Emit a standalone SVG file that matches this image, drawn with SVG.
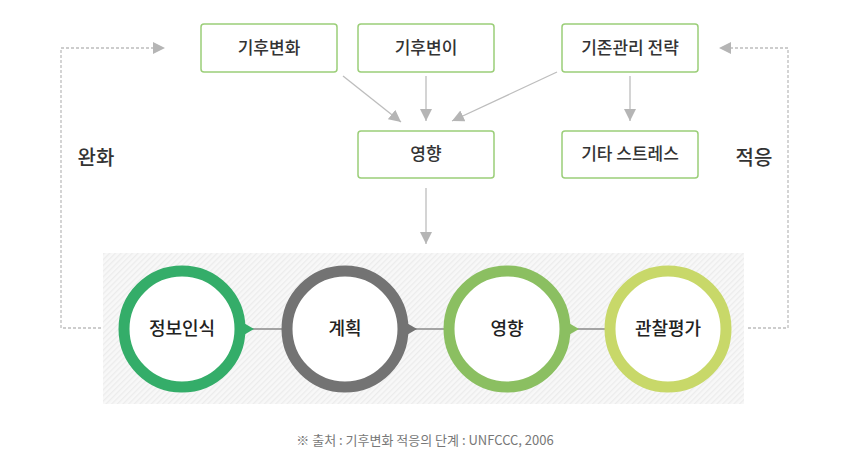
<svg xmlns="http://www.w3.org/2000/svg" width="850" height="473" viewBox="0 0 850 473">
<defs>
<pattern id="hatch" width="4" height="4" patternUnits="userSpaceOnUse" patternTransform="rotate(-45)">
<rect width="4" height="4" fill="#f8f8f8"/>
<rect width="4" height="1.3" fill="#ececec"/>
</pattern>
<marker id="ahb" viewBox="0 0 12 12" refX="12" refY="6" markerWidth="12" markerHeight="12" markerUnits="userSpaceOnUse" orient="auto">
<path d="M0,0 L12,6 L0,12 Z" fill="#b5b5b5"/>
</marker>
</defs>
<style>
.box{fill:#fff;stroke:#9bce78;stroke-width:1.5}
.t{font-family:"Noto Sans CJK KR","Noto Sans",sans-serif;font-size:17px;fill:#333;text-anchor:middle;font-weight:500}
.ct{font-family:"Noto Sans CJK KR","Noto Sans",sans-serif;font-size:18px;fill:#222;text-anchor:middle;font-weight:500}
.lbl{font-family:"Noto Sans CJK KR","Noto Sans",sans-serif;font-size:20px;fill:#333;text-anchor:middle;font-weight:500}
.arr{stroke:#bdbdbd;stroke-width:1.3;fill:none}
.dash{stroke:#bdbdbd;stroke-width:1.3;fill:none;stroke-dasharray:3 2}
.ring{fill:#fff;stroke-width:11}
.link{stroke:#8a8a8a;stroke-width:1.5}
</style>
<rect x="103" y="253" width="641" height="151" fill="url(#hatch)"/>
<g id="connectors">
<line class="arr" x1="343" y1="76" x2="401" y2="122" marker-end="url(#ahb)"/>
<line class="arr" x1="426" y1="76" x2="426" y2="121" marker-end="url(#ahb)"/>
<line class="arr" x1="557" y1="72" x2="452" y2="121" marker-end="url(#ahb)"/>
<line class="arr" x1="630" y1="76" x2="630" y2="121" marker-end="url(#ahb)"/>
<line class="arr" x1="426" y1="188" x2="426" y2="244" marker-end="url(#ahb)"/>
<polyline class="dash" points="101,328 61,328 61,48 153,48"/>
<path d="M153,42 L165,48 L153,54 Z" fill="#b5b5b5"/>
<polyline class="dash" points="748,328 788,328 788,48 731,48"/>
<path d="M731,42 L719,48 L731,54 Z" fill="#b5b5b5"/>
<line class="link" x1="250" y1="329" x2="285" y2="329"/>
<line class="link" x1="412" y1="329" x2="447" y2="329"/>
<line class="link" x1="574" y1="329" x2="609" y2="329"/>
</g>
<g id="n-climate-change"><rect class="box" x="201" y="24" width="136" height="48" rx="3"/><text class="t" x="269" y="54">기후변화</text></g>
<g id="n-climate-var"><rect class="box" x="358" y="24" width="136" height="48" rx="3"/><text class="t" x="426" y="54">기후변이</text></g>
<g id="n-existing"><rect class="box" x="562" y="24" width="136" height="48" rx="3"/><text class="t" x="630" y="54">기존관리 전략</text></g>
<g id="n-impact"><rect class="box" x="358" y="131" width="136" height="47" rx="3"/><text class="t" x="426" y="160">영향</text></g>
<g id="n-stress"><rect class="box" x="562" y="131" width="136" height="47" rx="3"/><text class="t" x="630" y="160">기타 스트레스</text></g>
<g id="l-mitigation"><text class="lbl" x="96" y="165">완화</text></g>
<g id="l-adaptation"><text class="lbl" x="754" y="165">적응</text></g>
<g id="c1"><circle class="ring" cx="182" cy="329" r="58" stroke="#34ad69"/><path d="M242,322 L254,329 L242,336 Z" fill="#34ad69"/><text class="ct" x="182" y="335">정보인식</text></g>
<g id="c2"><circle class="ring" cx="345" cy="329" r="58" stroke="#737373"/><path d="M405,322 L417,329 L405,336 Z" fill="#737373"/><text class="ct" x="345" y="335">계획</text></g>
<g id="c3"><circle class="ring" cx="507" cy="329" r="58" stroke="#8bbf61"/><path d="M567,322 L579,329 L567,336 Z" fill="#8bbf61"/><text class="ct" x="507" y="335">영향</text></g>
<g id="c4"><circle class="ring" cx="668" cy="329" r="58" stroke="#c8d869"/><text class="ct" x="668" y="335">관찰평가</text></g>
<text x="425" y="445" font-family="'Noto Sans CJK KR','Noto Sans',sans-serif" font-size="13" fill="#777" text-anchor="middle">※ 출처 : 기후변화 적응의 단계 : UNFCCC, 2006</text>
</svg>
